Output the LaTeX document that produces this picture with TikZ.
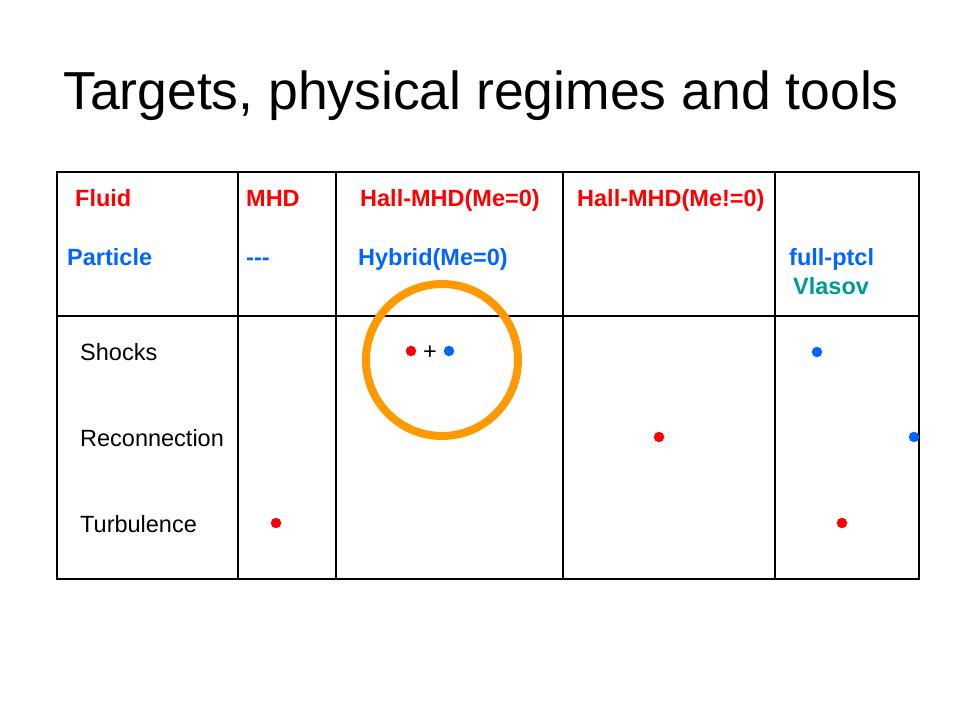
\documentclass[tikz,border=0pt]{standalone}
\usepackage{fontspec}
\setmainfont{Liberation Sans}
\definecolor{pred}{RGB}{255,0,0}
\definecolor{pblue}{RGB}{0,102,255}
\definecolor{pteal}{RGB}{0,153,153}
\definecolor{porange}{RGB}{255,153,0}
\begin{document}
\begin{tikzpicture}[x=1pt,y=-1pt,
  lbl/.style={anchor=base west,inner sep=0pt,font=\fontsize{23.5}{28}\selectfont},
  hdr/.style={lbl,font=\fontsize{23.5}{28}\selectfont\bfseries},
  dot/.style={circle,inner sep=0pt,minimum size=10.5pt},
  grid/.style={line width=1.1pt,draw=black}]
\useasboundingbox (0,0) rectangle (960,720);
\fill[white] (0,0) rectangle (960,720);
% title
\node[anchor=base west,inner sep=0pt,font=\fontsize{53.5}{60}\selectfont] (title) at (63,109) {Targets, physical regimes and tools};
% table
\draw[grid] (57,172) rectangle (919,579);
\draw[grid] (57,316) -- (919,316);
\foreach \x in {238,336,563,775} \draw[grid] (\x,172) -- (\x,579);
% headers
\node[hdr,text=pred] (fluid) at (75,206) {Fluid};
\node[hdr,text=pred] (mhd) at (246,206) {MHD};
\node[hdr,text=pred] (hall0) at (360,206) {Hall-MHD(Me=0)};
\node[hdr,text=pred] (hall1) at (577,206) {Hall-MHD(Me!=0)};
\node[hdr,text=pblue] (particle) at (67,265) {Particle};
\node[hdr,text=pblue] (dash) at (246,265) {-{}-{}-};
\node[hdr,text=pblue] (hybrid) at (358,265) {Hybrid(Me=0)};
\node[hdr,text=pblue] (fullp) at (789,265) {full-ptcl};
\node[hdr,text=pteal] (vlasov) at (793,294) {Vlasov};
% rows
\node[lbl] (shocks) at (80,360) {Shocks};
\node[lbl] (recon) at (80,446) {Reconnection};
\node[lbl] (turb) at (80,532) {Turbulence};
% dots
\node[dot,fill=pred] (d1) at (411,351) {};
\node[inner sep=0pt,font=\fontsize{23.5}{28}\selectfont] (plus) at (430,353) {+};
\node[dot,fill=pblue] (d2) at (449,351) {};
\node[dot,fill=pblue] (d3) at (817,352) {};
\node[dot,fill=pred] (d4) at (659,437) {};
\node[dot,fill=pblue] (d5) at (914,437) {};
\node[dot,fill=pred] (d6) at (276,523) {};
\node[dot,fill=pred] (d7) at (842,523) {};
% highlight circle
\node[circle,draw=porange,line width=8pt,minimum size=152pt,inner sep=0pt] (ring) at (442,360) {};
\end{tikzpicture}
\end{document}
